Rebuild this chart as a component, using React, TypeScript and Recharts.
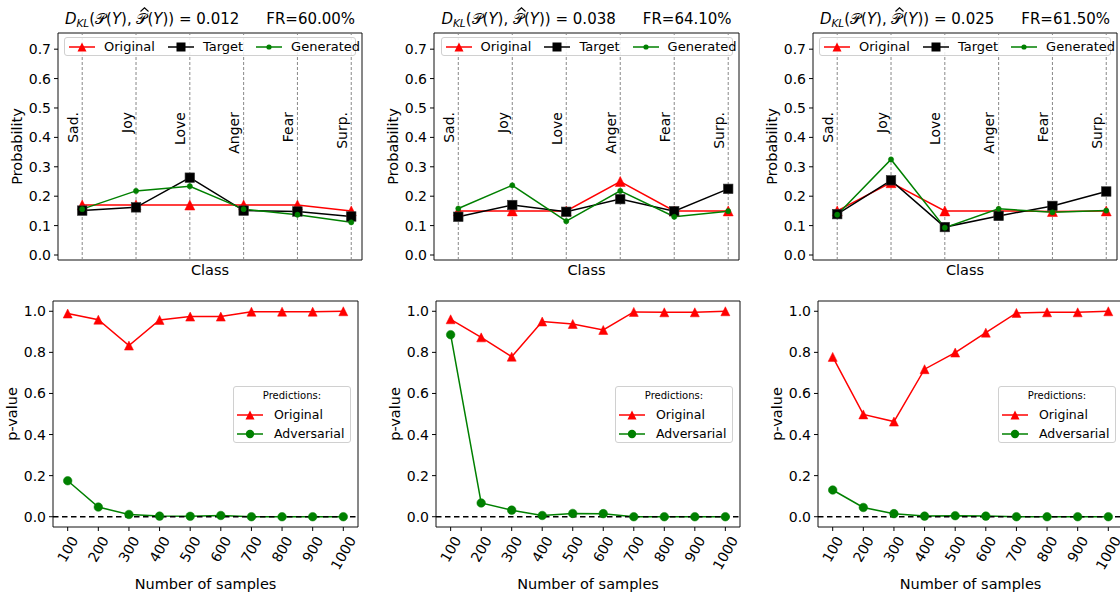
import React from "react";
import { LineChart, Line, XAxis, YAxis, ReferenceLine, ReferenceArea } from "recharts";

// class distribution panels (top row)
const classes = ["Sad.", "Joy", "Love", "Anger", "Fear", "Surp."];
const original1 = [0.17, 0.17, 0.17, 0.17, 0.17, 0.15];
const target1 = [0.151, 0.162, 0.263, 0.151, 0.148, 0.131];
const generated1 = [0.156, 0.218, 0.234, 0.156, 0.137, 0.111];
const original2 = [0.15, 0.15, 0.15, 0.25, 0.15, 0.15];
const target2 = [0.13, 0.17, 0.147, 0.19, 0.149, 0.225];
const generated2 = [0.158, 0.237, 0.115, 0.218, 0.13, 0.149];
const original3 = [0.15, 0.246, 0.15, 0.15, 0.148, 0.15];
const target3 = [0.139, 0.254, 0.095, 0.133, 0.167, 0.216];
const generated3 = [0.137, 0.325, 0.093, 0.157, 0.145, 0.151];
const klValues = ["0.012", "0.038", "0.025"];
const flipRates = ["60.00%", "64.10%", "61.50%"];
const probTicks = [0, 0.1, 0.2, 0.3, 0.4, 0.5, 0.6, 0.7];

// p-value panels (bottom row)
const samples = [100, 200, 300, 400, 500, 600, 700, 800, 900, 1000];
const pOriginal1 = [0.989, 0.959, 0.833, 0.958, 0.974, 0.974, 0.998, 0.998, 0.998, 1.0];
const pAdversarial1 = [0.175, 0.047, 0.011, 0.003, 0.002, 0.006, 0.0, 0.0, 0.0, 0.0];
const pOriginal2 = [0.961, 0.873, 0.779, 0.95, 0.938, 0.909, 0.997, 0.995, 0.995, 1.0];
const pAdversarial2 = [0.886, 0.067, 0.032, 0.006, 0.016, 0.015, 0.0, 0.0, 0.0, 0.0];
const pOriginal3 = [0.778, 0.498, 0.463, 0.718, 0.799, 0.896, 0.992, 0.995, 0.995, 1.0];
const pAdversarial3 = [0.13, 0.045, 0.015, 0.003, 0.005, 0.003, 0.0, 0.0, 0.0, 0.0];
const pTicks = [0, 0.2, 0.4, 0.6, 0.8, 1.0];

const RED = "#ff0000";
const GREEN = "#008000";
const BLACK = "#000000";
const FONT = "'DejaVu Sans', sans-serif";

type Rect = { x: number; y: number; w: number; h: number };

const topPlots: Rect[] = [
  { x: 58, y: 33, w: 304, h: 227 },
  { x: 434, y: 33, w: 305, h: 227 },
  { x: 813, y: 33, w: 304, h: 227 },
];
const bottomPlots: Rect[] = [
  { x: 53, y: 301, w: 305, h: 226 },
  { x: 436, y: 301, w: 304, h: 226 },
  { x: 818, y: 301, w: 305, h: 226 },
];

const PAD = 5;
const YW = 60;

function triangleDot(size: number, color: string) {
  return (p: any) => {
    if (p.cx == null || p.cy == null) return <g key={`t-${p.index}`} />;
    const h = size / 2;
    return (
      <polygon
        key={`t-${p.index}`}
        points={`${p.cx},${p.cy - h} ${p.cx - h},${p.cy + h} ${p.cx + h},${p.cy + h}`}
        fill={color}
        stroke={color}
        strokeWidth={0.5}
      />
    );
  };
}

function squareDot(size: number, color: string) {
  return (p: any) => {
    if (p.cx == null || p.cy == null) return <g key={`s-${p.index}`} />;
    return (
      <rect
        key={`s-${p.index}`}
        x={p.cx - size / 2}
        y={p.cy - size / 2}
        width={size}
        height={size}
        fill={color}
        stroke="#333"
        strokeWidth={0.6}
      />
    );
  };
}

function circleDot(r: number, color: string) {
  return (p: any) => {
    if (p.cx == null || p.cy == null) return <g key={`c-${p.index}`} />;
    return <circle key={`c-${p.index}`} cx={p.cx} cy={p.cy} r={r} fill={color} stroke={color} strokeWidth={0.5} />;
  };
}

function yTitle(text: string) {
  return (p: any) => {
    const vb = p.viewBox;
    if (!vb) return null;
    const cx = vb.x + vb.width - 41;
    const cy = vb.y + vb.height / 2;
    return (
      <text x={cx} y={cy} transform={`rotate(-90 ${cx} ${cy})`} textAnchor="middle" dominantBaseline="central" fontSize={14.5} fill="#000" fontFamily={FONT}>
        {text}
      </text>
    );
  };
}

function xTitle(text: string, dy: number) {
  return (p: any) => {
    const vb = p.viewBox;
    if (!vb) return null;
    return (
      <text x={vb.x + vb.width / 2} y={vb.y + dy} textAnchor="middle" dominantBaseline="central" fontSize={14.5} fill="#000" fontFamily={FONT}>
        {text}
      </text>
    );
  };
}

function classLabel(text: string) {
  return (p: any) => {
    const vb = p.viewBox;
    if (!vb) return null;
    const x = vb.x - 4.5;
    const y = vb.y + 79;
    return (
      <text x={x} y={y} transform={`rotate(-90 ${x} ${y})`} textAnchor="end" fontSize={14} fill="#000" fontFamily={FONT}>
        {text}
      </text>
    );
  };
}

const SampleTick = (p: any) => {
  const label = String(p.payload.value);
  const fs = 14;
  const w = label.length * 0.636 * fs;
  const h = w * 0.866 + 0.73 * fs * 0.5;
  const cx = p.x;
  const cy = p.y + 4 + h / 2;
  return (
    <text x={cx} y={cy} transform={`rotate(-60 ${cx} ${cy})`} textAnchor="middle" dominantBaseline="central" fontSize={fs} fill="#000" fontFamily={FONT}>
      {label}
    </text>
  );
};

function ClassPanel({ r, orig, target, gen }: { r: Rect; orig: number[]; target: number[]; gen: number[] }) {
  const data = classes.map((c, i) => ({ i, name: c, orig: orig[i], target: target[i], gen: gen[i] }));
  const xDom: [number, number] = [-0.45, 5.2];
  const yDom: [number, number] = [-0.017, 0.755];
  return (
    <div style={{ position: "absolute", left: r.x - YW - PAD, top: r.y - PAD }}>
      <LineChart width={PAD + YW + r.w + PAD} height={PAD + r.h + 30 + PAD} data={data} margin={{ top: PAD, right: PAD, bottom: PAD, left: PAD }}>
        <XAxis type="number" dataKey="i" domain={xDom} allowDataOverflow tick={false} tickLine={false} axisLine={false} height={30} label={{ content: xTitle("Class", 10) }} />
        <YAxis
          type="number"
          domain={yDom}
          allowDataOverflow
          ticks={probTicks}
          interval={0}
          tickFormatter={(v: number) => v.toFixed(1)}
          width={YW}
          tickSize={4}
          tickMargin={3}
          axisLine={false}
          tick={{ fontSize: 14, fill: "#000", fontFamily: FONT }}
          tickLine={{ stroke: "#000" }}
          label={{ content: yTitle("Probability") }}
        />
        <ReferenceArea x1={xDom[0]} x2={xDom[1]} y1={yDom[0]} y2={yDom[1]} fill="none" stroke="#111" strokeWidth={1} ifOverflow="visible" />
        {classes.map((c, i) => (
          <ReferenceLine key={c} x={i} stroke="#888" strokeWidth={1} strokeDasharray="3 2" label={{ content: classLabel(c) }} />
        ))}
        <Line dataKey="orig" type="linear" stroke={RED} strokeWidth={1.5} dot={triangleDot(10, RED)} activeDot={false} isAnimationActive={false} />
        <Line dataKey="target" type="linear" stroke={BLACK} strokeWidth={1.5} dot={squareDot(9.5, BLACK)} activeDot={false} isAnimationActive={false} />
        <Line dataKey="gen" type="linear" stroke={GREEN} strokeWidth={1.5} dot={circleDot(2.6, GREEN)} activeDot={false} isAnimationActive={false} />
      </LineChart>
    </div>
  );
}

function PValuePanel({ r, orig, adv }: { r: Rect; orig: number[]; adv: number[] }) {
  const data = samples.map((n, i) => ({ n, orig: orig[i], adv: adv[i] }));
  const xDom: [number, number] = [52, 1048];
  const yDom: [number, number] = [-0.05, 1.05];
  const xh = 70;
  return (
    <div style={{ position: "absolute", left: r.x - YW - PAD, top: r.y - PAD }}>
      <LineChart width={PAD + YW + r.w + PAD} height={PAD + r.h + xh + PAD} data={data} margin={{ top: PAD, right: PAD, bottom: PAD, left: PAD }}>
        <XAxis
          type="number"
          dataKey="n"
          domain={xDom}
          allowDataOverflow
          ticks={samples}
          interval={0}
          tick={SampleTick}
          tickSize={4}
          tickMargin={0}
          tickLine={{ stroke: "#000" }}
          axisLine={false}
          height={xh}
          label={{ content: xTitle("Number of samples", 57) }}
        />
        <YAxis
          type="number"
          domain={yDom}
          allowDataOverflow
          ticks={pTicks}
          interval={0}
          tickFormatter={(v: number) => v.toFixed(1)}
          width={YW}
          tickSize={4}
          tickMargin={3}
          axisLine={false}
          tick={{ fontSize: 14, fill: "#000", fontFamily: FONT }}
          tickLine={{ stroke: "#000" }}
          label={{ content: yTitle("p-value") }}
        />
        <ReferenceArea x1={xDom[0]} x2={xDom[1]} y1={yDom[0]} y2={yDom[1]} fill="none" stroke="#111" strokeWidth={1} ifOverflow="visible" />
        <Line dataKey="orig" type="linear" stroke={RED} strokeWidth={1.5} dot={triangleDot(9, RED)} activeDot={false} isAnimationActive={false} />
        <Line dataKey="adv" type="linear" stroke={GREEN} strokeWidth={1.5} dot={circleDot(4.3, GREEN)} activeDot={false} isAnimationActive={false} />
        <ReferenceLine y={0} stroke="#000" strokeWidth={1.5} strokeDasharray="5.5 3.5" />
      </LineChart>
    </div>
  );
}

function LegendMarker({ color, kind }: { color: string; kind: "tri" | "sq" | "dot" | "circ" }) {
  return (
    <svg width={26} height={14} style={{ display: "block", flex: "none" }}>
      <line x1={0} y1={7} x2={26} y2={7} stroke={color} strokeWidth={1.5} />
      {kind === "tri" && <polygon points="13,2.5 8.5,11.5 17.5,11.5" fill={color} />}
      {kind === "sq" && <rect x={8.5} y={2.5} width={9} height={9} fill={color} />}
      {kind === "dot" && <circle cx={13} cy={7} r={2.6} fill={color} />}
      {kind === "circ" && <circle cx={13} cy={7} r={4.2} fill={color} />}
    </svg>
  );
}

function TopLegend({ r }: { r: Rect }) {
  const items: { label: string; color: string; kind: "tri" | "sq" | "dot" }[] = [
    { label: "Original", color: RED, kind: "tri" },
    { label: "Target", color: BLACK, kind: "sq" },
    { label: "Generated", color: GREEN, kind: "dot" },
  ];
  const w = 292;
  return (
    <div
      style={{
        position: "absolute",
        left: r.x + r.w / 2 - w / 2,
        top: 37,
        width: w,
        height: 19,
        boxSizing: "border-box",
        border: "1px solid #d0d0d0",
        borderRadius: 3,
        background: "rgba(255,255,255,0.85)",
        display: "flex",
        alignItems: "center",
        paddingLeft: 4,
        fontSize: 13,
        fontFamily: FONT,
        whiteSpace: "nowrap",
      }}
    >
      {items.map((it, k) => (
        <React.Fragment key={it.label}>
          <LegendMarker color={it.color} kind={it.kind} />
          <span style={{ marginLeft: 9, marginRight: k < 2 ? 13 : 0 }}>{it.label}</span>
        </React.Fragment>
      ))}
    </div>
  );
}

function BottomLegend({ r }: { r: Rect }) {
  const w = 118;
  const h = 57;
  return (
    <div
      style={{
        position: "absolute",
        left: r.x + r.w - 7 - w,
        top: r.y + r.h / 2 - h / 2,
        width: w,
        height: h,
        boxSizing: "border-box",
        border: "1px solid #d0d0d0",
        borderRadius: 3,
        background: "rgba(255,255,255,0.85)",
        fontFamily: FONT,
        whiteSpace: "nowrap",
      }}
    >
      <div style={{ position: "absolute", left: 0, width: "100%", top: 2, textAlign: "center", fontSize: 10, lineHeight: "14px" }}>Predictions:</div>
      <div style={{ position: "absolute", left: 3, top: 20, display: "flex", alignItems: "center", fontSize: 12.5, lineHeight: "16px" }}>
        <LegendMarker color={RED} kind="tri" />
        <span style={{ marginLeft: 11 }}>Original</span>
      </div>
      <div style={{ position: "absolute", left: 3, top: 39, display: "flex", alignItems: "center", fontSize: 12.5, lineHeight: "16px" }}>
        <LegendMarker color={GREEN} kind="circ" />
        <span style={{ marginLeft: 11 }}>Adversarial</span>
      </div>
    </div>
  );
}

// script P with a hat drawn as a small chevron (not a text glyph)
function HatP() {
  return (
    <span style={{ position: "relative", display: "inline-block" }}>
      {"\u{1D4AB}"}
      <svg width={9} height={5} style={{ position: "absolute", left: 4, top: -1 }}>
        <polyline points="0.5,4.5 4.5,0.8 8.5,4.5" fill="none" stroke="#000" strokeWidth={1.1} />
      </svg>
    </span>
  );
}

function Title({ r, kl, fr }: { r: Rect; kl: string; fr: string }) {
  return (
    <div
      style={{
        position: "absolute",
        left: r.x - 40,
        width: r.w + 80,
        top: 8,
        textAlign: "center",
        fontSize: 15,
        lineHeight: "22px",
        fontFamily: FONT,
        whiteSpace: "nowrap",
      }}
    >
      <i>D</i>
      <sub style={{ fontSize: 10.5, verticalAlign: "-3px" }}>
        <i>KL</i>
      </sub>
      {"(\u{1D4AB}("}
      <i>Y</i>
      {"), "}
      <HatP />
      {"("}
      <i>Y</i>
      {")) = " + kl}
      <span style={{ display: "inline-block", width: 27 }} />
      FR={fr}
    </div>
  );
}

export default function App() {
  const tops = [
    { orig: original1, target: target1, gen: generated1 },
    { orig: original2, target: target2, gen: generated2 },
    { orig: original3, target: target3, gen: generated3 },
  ];
  const bottoms = [
    { orig: pOriginal1, adv: pAdversarial1 },
    { orig: pOriginal2, adv: pAdversarial2 },
    { orig: pOriginal3, adv: pAdversarial3 },
  ];
  return (
    <div style={{ position: "absolute", left: 0, top: 0, width: 1120, height: 594, overflow: "hidden", background: "#fff", fontFamily: FONT }}>
      {tops.map((t, k) => (
        <ClassPanel key={`top-${k}`} r={topPlots[k]} orig={t.orig} target={t.target} gen={t.gen} />
      ))}
      {bottoms.map((b, k) => (
        <PValuePanel key={`bot-${k}`} r={bottomPlots[k]} orig={b.orig} adv={b.adv} />
      ))}
      {topPlots.map((r, k) => (
        <Title key={`title-${k}`} r={r} kl={klValues[k]} fr={flipRates[k]} />
      ))}
      {topPlots.map((r, k) => (
        <TopLegend key={`tl-${k}`} r={r} />
      ))}
      {bottomPlots.map((r, k) => (
        <BottomLegend key={`bl-${k}`} r={r} />
      ))}
    </div>
  );
}
